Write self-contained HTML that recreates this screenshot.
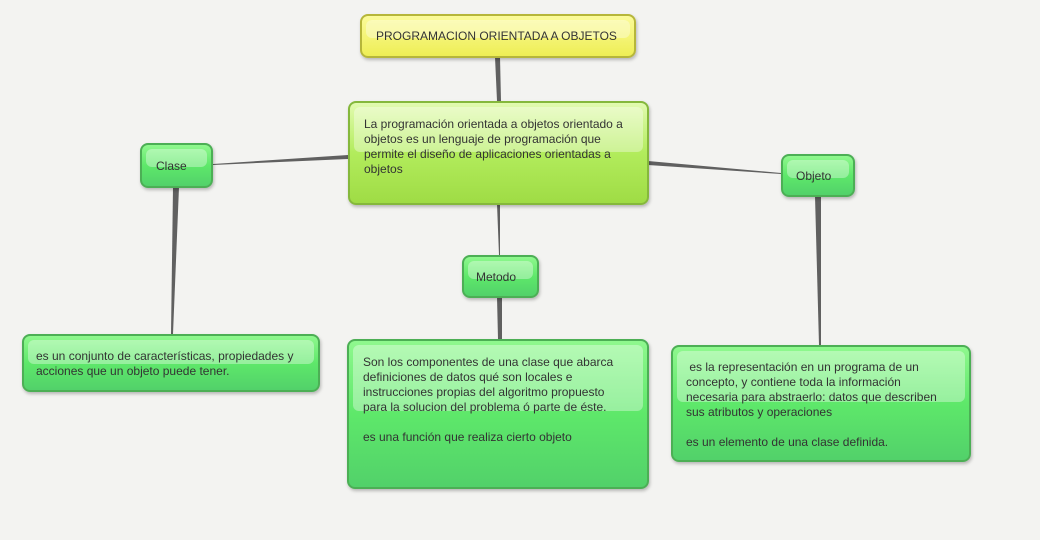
<!DOCTYPE html>
<html><head><meta charset="utf-8"><style>
body{margin:0;width:1040px;height:540px;background:#f3f3f1;position:relative;overflow:hidden;font-family:"Liberation Sans",sans-serif;color:#333;}
.n{position:absolute;box-sizing:border-box;border-radius:8px;font-size:12px;line-height:15px;box-shadow:1px 2px 3px rgba(0,0,0,.25);overflow:hidden}
.n::before{content:"";position:absolute;left:4px;right:4px;top:4px;height:45%;border-radius:6px;background:rgba(255,255,255,.35)}
.n span{position:relative}
.g{background:linear-gradient(#8ff88e,#5ee86a 50%,#52d16a);border:2px solid #4caf55}
.y{background:linear-gradient(#fbfb9a,#eeee55);border:2px solid #b6b63a}
.l{background:linear-gradient(#e2fbb0,#b2ec5c 50%,#9fdc45);border:2px solid #85b83c}
</style></head><body>
<svg width="1040" height="540" style="position:absolute;left:0;top:0">
<g fill="#606060">
<polygon points="495,57 500,57 501,101 497,101"/>
<polygon points="348,155 348,159 213,165 213,164"/>
<polygon points="648,161 648,165 781,174 781,173"/>
<polygon points="497,204 500,204 500,255 499,255"/>
<polygon points="173,187 179,187 173,334 171,334"/>
<polygon points="497,297 502,297 502,339 498,339"/>
<polygon points="815,196 821,196 821,345 819,345"/>
</g></svg>
<div class="n y" style="left:360px;top:14px;width:276px;height:44px;padding:13px 0 0 14px"><span>PROGRAMACION ORIENTADA A OBJETOS</span></div>
<div class="n l" style="left:348px;top:101px;width:301px;height:104px;padding:14px 0 0 14px"><span>La programación orientada a objetos orientado a<br>objetos es un lenguaje de programación que<br>permite el diseño de aplicaciones orientadas a<br>objetos</span></div>
<div class="n g" style="left:140px;top:143px;width:73px;height:45px;padding:14px 0 0 14px"><span>Clase</span></div>
<div class="n g" style="left:781px;top:154px;width:74px;height:43px;padding:13px 0 0 13px"><span>Objeto</span></div>
<div class="n g" style="left:462px;top:255px;width:77px;height:43px;padding:13px 0 0 12px"><span>Metodo</span></div>
<div class="n g" style="left:22px;top:334px;width:298px;height:58px;padding:13px 0 0 12px"><span>es un conjunto de características, propiedades y<br>acciones que un objeto puede tener.</span></div>
<div class="n g" style="left:347px;top:339px;width:302px;height:150px;padding:14px 0 0 14px"><span>Son los componentes de una clase que abarca<br>definiciones de datos qué son locales e<br>instrucciones propias del algoritmo propuesto<br>para la solucion del problema ó parte de éste.<br><br>es una función que realiza cierto objeto</span></div>
<div class="n g" style="left:671px;top:345px;width:300px;height:117px;padding:13px 0 0 13px"><span>&nbsp;es la representación en un programa de un<br>concepto, y contiene toda la información<br>necesaria para abstraerlo: datos que describen<br>sus atributos y operaciones<br><br>es un elemento de una clase definida.</span></div>
</body></html>
